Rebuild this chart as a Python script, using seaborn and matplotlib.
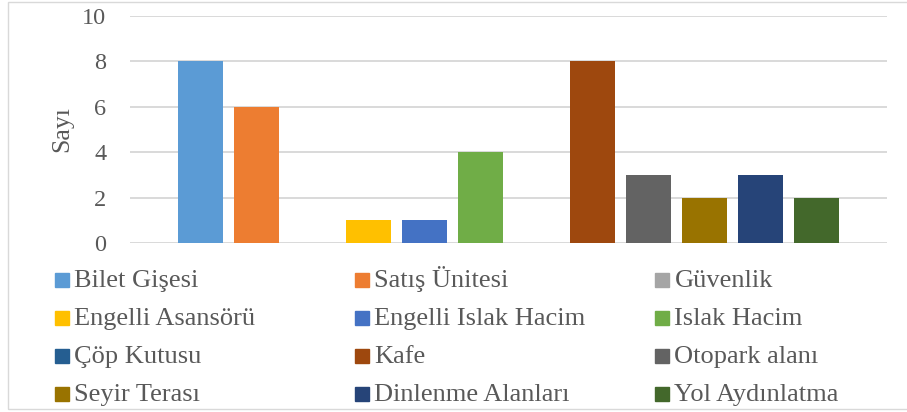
import matplotlib
matplotlib.use("Agg")
import matplotlib.pyplot as plt
from matplotlib.lines import Line2D
from matplotlib.patches import Rectangle
import seaborn as sns
import pandas as pd

# values (one category, twelve series)
series = ["Bilet Gişesi", "Satış Ünitesi", "Güvenlik",
          "Engelli Asansörü", "Engelli Islak Hacim", "Islak Hacim",
          "Çöp Kutusu", "Kafe", "Otopark alanı",
          "Seyir Terası", "Dinlenme Alanları", "Yol Aydınlatma"]
counts = [8, 6, 0, 1, 1, 4, 0, 8, 3, 2, 3, 2]
colors = ["#5B9BD5", "#ED7D31", "#A5A5A5", "#FFC000", "#4472C4", "#70AD47",
          "#255E91", "#9E480E", "#636363", "#997300", "#264478", "#43682B"]
yticks = [0, 2, 4, 6, 8, 10]

df = pd.DataFrame({"grup": ["Tümü"] * len(series), "tur": series, "sayi": counts})

sns.set_style("white")
plt.rcParams["font.family"] = ["Liberation Serif", "DejaVu Serif"]
txt = "#595959"

fig = plt.figure(figsize=(9.07, 4.12), dpi=100)
W, H = 907, 412
ax = fig.add_axes([130 / W, 1 - 243 / H, 757 / W, 227 / H])

sns.barplot(data=df, x="grup", y="sayi", hue="tur", hue_order=series,
            palette=colors, saturation=1, width=0.888, gap=0.207,
            legend=False, errorbar=None, linewidth=0, ax=ax)

ax.set_xlim(-0.5, 0.5)
ax.set_ylim(0, 10)
ax.set_yticks(yticks)
ax.set_xticks([])
ax.set_xlabel("")
ax.set_ylabel("Sayı", fontsize=18.5, color=txt)
ax.yaxis.set_label_coords((73 - 130) / 757, 0.5)
ax.tick_params(axis="y", length=0, pad=17, labelsize=17.5, labelcolor=txt)
ax.yaxis.grid(True, color="#d9d9d9", linewidth=1.4)
ax.set_axisbelow(True)
for s in ax.spines.values():
    s.set_visible(False)

# legend drawn as three columns filled row by row, fixed baselines
col_x = [62, 362, 662]
row_base = [287, 325, 363, 401]
for i, (name, c) in enumerate(zip(series, colors)):
    r, j = divmod(i, 3)
    xb = col_x[j] / W
    yb = 1 - row_base[r] / H
    fig.add_artist(Line2D([xb], [1 - (row_base[r] - 7) / H], marker="s",
                          markersize=9.8, markerfacecolor=c, markeredgecolor=c,
                          linestyle="", transform=fig.transFigure))
    fig.text(xb + 12.5 / W, yb, name, fontsize=19, color=txt,
             ha="left", va="baseline")

# light outer frame of the chart area (right edge falls outside the image)
fig.patches.append(Rectangle((8 / W, 1 - 409 / H), 905 / W, 407 / H,
                             transform=fig.transFigure, fill=False,
                             edgecolor="#d9d9d9", linewidth=1.0))

fig.savefig("out.png", dpi=100)
